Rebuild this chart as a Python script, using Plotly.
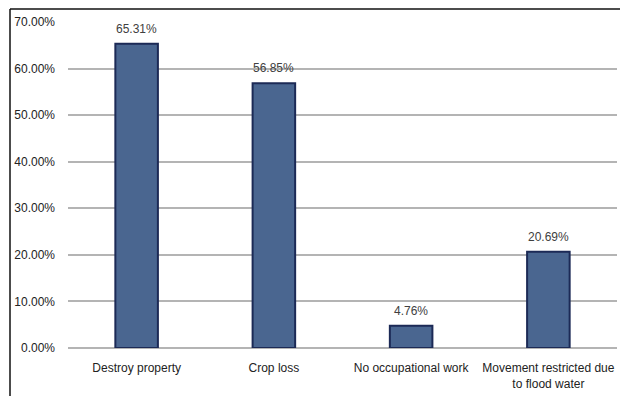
import plotly.graph_objects as go

categories = ["Destroy property", "Crop loss", "No occupational work",
              "Movement restricted due<br>to flood water"]
values = [65.31, 56.85, 4.76, 20.69]
labels = ["65.31%", "56.85%", "4.76%", "20.69%"]
tick_vals = [0, 10, 20, 30, 40, 50, 60, 70]
tick_text = ["0.00%", "10.00%", "20.00%", "30.00%", "40.00%", "50.00%", "60.00%", "70.00%"]

W, H = 620, 396
L, R, T, B = 68, 3, 22, 48
pw, ph = W - L - R, H - T - B

fig = go.Figure(go.Bar(
    x=categories, y=values,
    marker=dict(color="#4a6690", line=dict(color="#1c2a56", width=2)),
    width=0.31,
))

for c, v, t in zip(categories, values, labels):
    fig.add_annotation(x=c, y=v, text=t, showarrow=False, yanchor="bottom",
                       yshift=6, font=dict(family="Liberation Sans, Arial", size=12, color="#404040"))

def px_x(p):
    return (p - L) / pw

def px_y(p):
    return (H - B - p) / ph

fig.update_layout(
    width=W, height=H,
    margin=dict(l=L, r=R, t=T, b=B),
    paper_bgcolor="white", plot_bgcolor="white",
    font=dict(family="Liberation Sans, Arial", size=12, color="#222"),
    showlegend=False,
    xaxis=dict(showline=False, ticks="", ticklabelstandoff=11,
               tickfont=dict(size=12, color="#222")),
    yaxis=dict(range=[0, 70], tickvals=tick_vals, ticktext=tick_text,
               showgrid=True, gridcolor="#b4b4b4", gridwidth=1.5,
               zeroline=True, zerolinecolor="#b4b4b4", zerolinewidth=1.5,
               showline=False, ticks="", ticklabelstandoff=12,
               tickfont=dict(size=12, color="#222")),
    shapes=[
        dict(type="line", xref="paper", yref="paper",
             x0=px_x(10), x1=px_x(10), y0=px_y(9), y1=px_y(400),
             line=dict(color="#111", width=1.5)),
        dict(type="line", xref="paper", yref="paper",
             x0=px_x(10), x1=px_x(625), y0=px_y(9), y1=px_y(9),
             line=dict(color="#111", width=1.5)),
    ],
)

fig.write_html("out.html")
